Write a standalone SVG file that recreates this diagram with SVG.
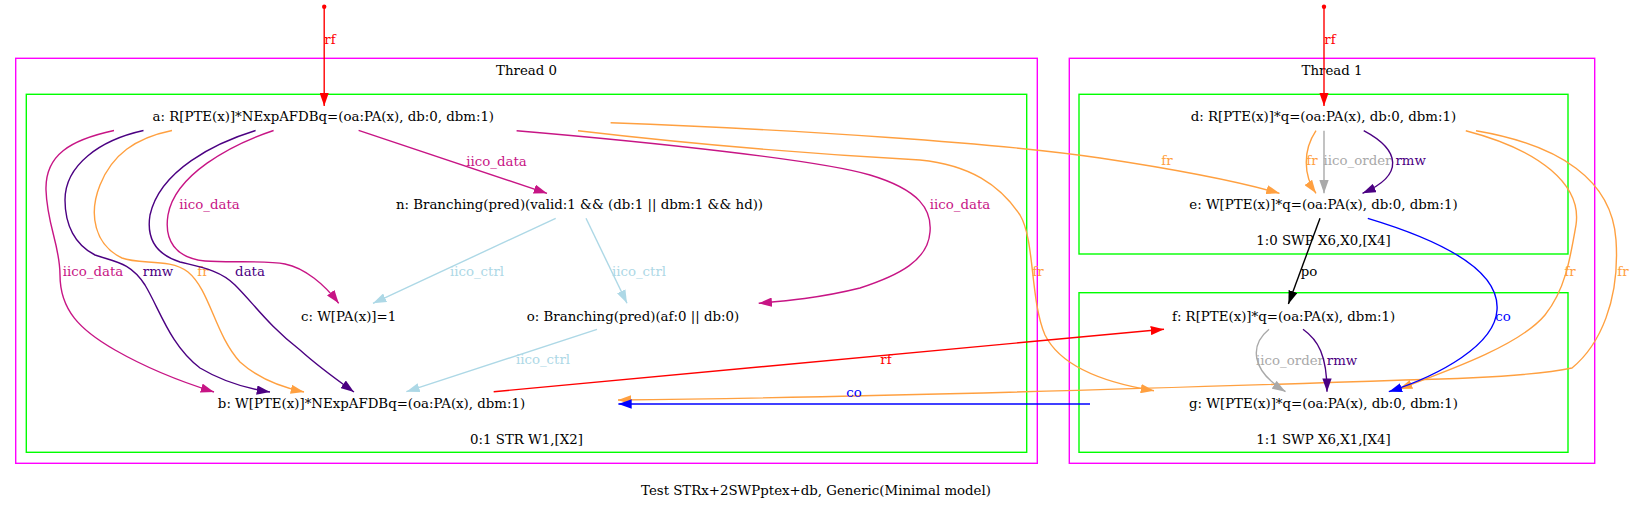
<svg xmlns="http://www.w3.org/2000/svg" width="1635" height="505" viewBox="0 0 1635 505">
<style>
text{font-family:"DejaVu Serif","Liberation Serif",serif;font-size:13.33px;text-anchor:middle}
.e{fill:none;stroke-width:1.4}
.cl0{fill:none;stroke:#ff00ff;stroke-width:1.4}
.cl1{fill:none;stroke:#00ff00;stroke-width:1.4}
.red{stroke:#ff0000}.vr{stroke:#c71585}.ind{stroke:#4b0082}.or{stroke:#ffa040}.lb{stroke:#add8e6}.gr{stroke:#a9a9a9}.bl{stroke:#0000ff}.bk{stroke:#000000}
.tred{fill:#ff0000}.tvr{fill:#c71585}.tind{fill:#4b0082}.tor{fill:#ffa040}.tlb{fill:#add8e6}.tgr{fill:#a9a9a9}.tbl{fill:#0000ff}.tbk{fill:#000000}
</style>
<defs>
<marker id="m-red" viewBox="0 0 13.3 9.3" refX="13.3" refY="4.65" markerWidth="13.3" markerHeight="9.3" markerUnits="userSpaceOnUse" orient="auto"><path d="M0,0L13.3,4.65L0,9.3z" fill="#ff0000"/></marker>
<marker id="m-vr" viewBox="0 0 13.3 9.3" refX="13.3" refY="4.65" markerWidth="13.3" markerHeight="9.3" markerUnits="userSpaceOnUse" orient="auto"><path d="M0,0L13.3,4.65L0,9.3z" fill="#c71585"/></marker>
<marker id="m-ind" viewBox="0 0 13.3 9.3" refX="13.3" refY="4.65" markerWidth="13.3" markerHeight="9.3" markerUnits="userSpaceOnUse" orient="auto"><path d="M0,0L13.3,4.65L0,9.3z" fill="#4b0082"/></marker>
<marker id="m-or" viewBox="0 0 13.3 9.3" refX="13.3" refY="4.65" markerWidth="13.3" markerHeight="9.3" markerUnits="userSpaceOnUse" orient="auto"><path d="M0,0L13.3,4.65L0,9.3z" fill="#ffa040"/></marker>
<marker id="m-lb" viewBox="0 0 13.3 9.3" refX="13.3" refY="4.65" markerWidth="13.3" markerHeight="9.3" markerUnits="userSpaceOnUse" orient="auto"><path d="M0,0L13.3,4.65L0,9.3z" fill="#add8e6"/></marker>
<marker id="m-gr" viewBox="0 0 13.3 9.3" refX="13.3" refY="4.65" markerWidth="13.3" markerHeight="9.3" markerUnits="userSpaceOnUse" orient="auto"><path d="M0,0L13.3,4.65L0,9.3z" fill="#a9a9a9"/></marker>
<marker id="m-bl" viewBox="0 0 13.3 9.3" refX="13.3" refY="4.65" markerWidth="13.3" markerHeight="9.3" markerUnits="userSpaceOnUse" orient="auto"><path d="M0,0L13.3,4.65L0,9.3z" fill="#0000ff"/></marker>
<marker id="m-bk" viewBox="0 0 13.3 9.3" refX="13.3" refY="4.65" markerWidth="13.3" markerHeight="9.3" markerUnits="userSpaceOnUse" orient="auto"><path d="M0,0L13.3,4.65L0,9.3z" fill="#000000"/></marker>
</defs>
<rect width="1635" height="505" fill="#ffffff"/>
<g id="clusters">
<g id="thread0">
<rect class="cl0" x="15.7" y="58.3" width="1021.6" height="405"/>
<text x="526.5" y="75">Thread 0</text>
<rect class="cl1" x="26.3" y="94.3" width="1000.4" height="358"/>
<text x="526.5" y="444">0:1 STR W1,[X2]</text>
</g>
<g id="thread1">
<rect class="cl0" x="1069.3" y="58.3" width="525.4" height="405"/>
<text x="1332" y="75">Thread 1</text>
<rect class="cl1" x="1079" y="94.3" width="489" height="159.7"/>
<text x="1323.5" y="245.3">1:0 SWP X6,X0,[X4]</text>
<rect class="cl1" x="1079" y="292.7" width="489" height="159.6"/>
<text x="1323.5" y="444">1:1 SWP X6,X1,[X4]</text>
</g>
</g>
<g id="p0"><circle cx="324.2" cy="6.7" r="2.2" fill="#ff0000"/></g>
<g id="p1"><circle cx="1324" cy="6.7" r="2.2" fill="#ff0000"/></g>
<g id="a"><text x="323.3" y="121.3">a: R[PTE(x)]*NExpAFDBq=(oa:PA(x), db:0, dbm:1)</text></g>
<g id="n"><text x="579.5" y="208.6">n: Branching(pred)(valid:1 &amp;&amp; (db:1 || dbm:1 &amp;&amp; hd))</text></g>
<g id="c"><text x="348.6" y="320.6">c: W[PA(x)]=1</text></g>
<g id="o"><text x="633" y="320.6">o: Branching(pred)(af:0 || db:0)</text></g>
<g id="b"><text x="371.5" y="408">b: W[PTE(x)]*NExpAFDBq=(oa:PA(x), dbm:1)</text></g>
<g id="d"><text x="1323.5" y="121.3">d: R[PTE(x)]*q=(oa:PA(x), db:0, dbm:1)</text></g>
<g id="e"><text x="1323.5" y="208.6">e: W[PTE(x)]*q=(oa:PA(x), db:0, dbm:1)</text></g>
<g id="f"><text x="1283.6" y="320.6">f: R[PTE(x)]*q=(oa:PA(x), dbm:1)</text></g>
<g id="g"><text x="1323.5" y="408">g: W[PTE(x)]*q=(oa:PA(x), db:0, dbm:1)</text></g>
<g id="connectors">
<path class="e red" marker-end="url(#m-red)" d="M324.2,6.7L324.2,106"/>
<text class="tred" x="330" y="44">rf</text>
<path class="e red" marker-end="url(#m-red)" d="M1324,6.7L1324,106"/>
<text class="tred" x="1330" y="44">rf</text>
<path class="e vr" marker-end="url(#m-vr)" d="M114,130.5C70,140 45,155 46,190C47,225 60,245 60,275C60,310 80,330 115,350C150,370 185,383 214,392"/>
<text class="tvr" x="93" y="276.2">iico_data</text>
<path class="e ind" marker-end="url(#m-ind)" d="M143.5,130.5C100,140 65,165 65,200C65,225 75,245 95,255C115,262 130,262 145,285C160,310 170,345 200,368C225,383 250,389 270,392"/>
<text class="tind" x="158" y="276.2">rmw</text>
<path class="e or" marker-end="url(#m-or)" d="M172,130.5C135,138 112,155 100,185C88,215 95,245 122,258C140,265 170,258 188,272C210,290 215,335 240,362C260,380 285,388 304,392"/>
<text class="tor" x="203" y="276.2">fr</text>
<path class="e ind" marker-end="url(#m-ind)" d="M255.6,130.5C215,143 160,170 150,215C146,240 158,255 180,262C200,267 220,270 235,285C255,305 268,325 300,350C320,368 340,382 354,392"/>
<text class="tind" x="250" y="276.2">data</text>
<path class="e vr" marker-end="url(#m-vr)" d="M273.6,130.5C230,145 175,175 168,215C164,240 175,258 205,261C230,263 265,260 285,264C305,268 325,285 338.7,303.3"/>
<text class="tvr" x="209.5" y="208.8">iico_data</text>
<path class="e vr" marker-end="url(#m-vr)" d="M358.6,130.3L547,193.3"/>
<text class="tvr" x="496.5" y="165.5">iico_data</text>
<path class="e vr" marker-end="url(#m-vr)" d="M516.6,130.7C650,142 820,160 870,175C920,190 932,210 930,232C928,260 900,275 860,288C820,298 785,301 758.7,303.3"/>
<text class="tvr" x="960" y="208.8">iico_data</text>
<path class="e or" marker-end="url(#m-or)" d="M610.6,122.7C800,130 1000,143 1100,158C1180,170 1240,182 1279.5,193.3"/>
<text class="tor" x="1167" y="165.2">fr</text>
<path class="e or" marker-end="url(#m-or)" d="M578,130.7C700,145 830,155 920,160C970,165 1000,185 1020,215C1035,240 1030,300 1045,335C1060,365 1100,382 1154,390.7"/>
<text class="tor" x="1038" y="276.2">fr</text>
<path class="e lb" marker-end="url(#m-lb)" d="M555.7,218.3L373,303.3"/>
<text class="tlb" x="477" y="276.2">iico_ctrl</text>
<path class="e lb" marker-end="url(#m-lb)" d="M586,218.3L627,303.3"/>
<text class="tlb" x="639" y="276.2">iico_ctrl</text>
<path class="e lb" marker-end="url(#m-lb)" d="M597,329.3L406.4,391.7"/>
<text class="tlb" x="543" y="363.8">iico_ctrl</text>
<path class="e red" marker-end="url(#m-red)" d="M493.7,391.7L1164,329.3"/>
<text class="tred" x="886" y="363.8">rf</text>
<path class="e or" marker-end="url(#m-or)" d="M1476,130.7C1560,145 1612,180 1616,240C1620,300 1600,345 1572,368C1530,377 1450,379 1405,380C1200,387 900,397 618,400"/>
<text class="tor" x="1623" y="276.2">fr</text>
<path class="e bl" marker-end="url(#m-bl)" d="M1090,404L618.4,404"/>
<text class="tbl" x="854" y="397.2">co</text>
<path class="e or" marker-end="url(#m-or)" d="M1465.8,130.7C1540,150 1582,185 1576,225C1570,260 1565,290 1545,315C1520,345 1450,370 1399,389"/>
<text class="tor" x="1570" y="276.2">fr</text>
<path class="e or" marker-end="url(#m-or)" d="M1316,130.7C1303,150 1303,175 1316,193.3"/>
<text class="tor" x="1312" y="165.2">fr</text>
<path class="e gr" marker-end="url(#m-gr)" d="M1324,130.7L1324,193.3"/>
<text class="tgr" x="1357.5" y="165.2">iico_order</text>
<path class="e ind" marker-end="url(#m-ind)" d="M1363.7,130.7C1400,150 1405,175 1362.5,193.3"/>
<text class="tind" x="1410.6" y="165.2">rmw</text>
<path class="e bk" marker-end="url(#m-bk)" d="M1320,218.3L1288.4,304"/>
<text class="tbk" x="1309" y="276.2">po</text>
<path class="e bl" marker-end="url(#m-bl)" d="M1367.8,218.3C1440,240 1500,270 1497,310C1495,345 1440,375 1388.8,391.7"/>
<text class="tbl" x="1503" y="320.5">co</text>
<path class="e gr" marker-end="url(#m-gr)" d="M1269,329.3C1250,345 1250,370 1285.5,391.7"/>
<text class="tgr" x="1290" y="364.5">iico_order</text>
<path class="e ind" marker-end="url(#m-ind)" d="M1303,329.3C1318,340 1327,355 1327,391.7"/>
<text class="tind" x="1342" y="364.5">rmw</text>
</g>
<text x="816" y="494.5">Test STRx+2SWPptex+db, Generic(Minimal model)</text>
</svg>
